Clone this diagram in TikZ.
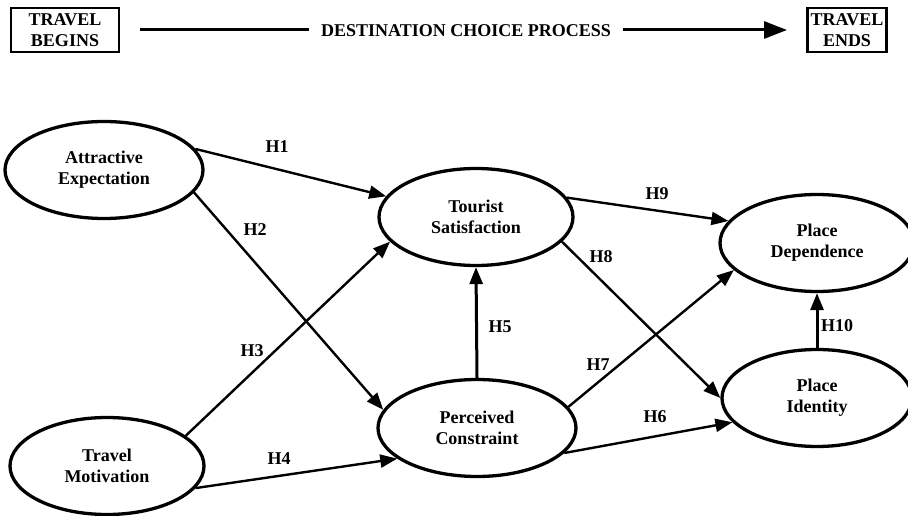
\documentclass[tikz,border=0pt]{standalone}
\usepackage{fontspec}
\setmainfont{Liberation Serif}
\usetikzlibrary{arrows.meta,shapes.geometric}
\begin{document}
\begin{tikzpicture}[x=1pt,y=-1pt,
  construct/.style={ellipse, draw, line width=3.3pt, minimum width=194pt, minimum height=97pt,
    inner sep=0pt, align=center, font=\fontsize{18}{21}\selectfont\bfseries},
  stagebox/.style={draw, line width=2.7pt, minimum height=44pt, inner sep=0pt, align=center,
    font=\fontsize{18}{21}\selectfont\bfseries},
  hyp/.style={font=\fontsize{18}{21}\selectfont\bfseries, inner sep=1pt},
  link/.style={line width=2.4pt, -{Triangle[length=17pt,width=13pt]}},
  vlink/.style={line width=3pt, -{Triangle[length=17pt,width=13pt]}},
  procline/.style={line width=3pt}
]
\useasboundingbox (0,0) rectangle (908,516);

% top process bar
\node[stagebox, minimum width=108pt] (begins) at (65,30) {TRAVEL\\BEGINS};
\node[stagebox, minimum width=79pt] (ends) at (847,30) {TRAVEL\\ENDS};
\node[font=\fontsize{18}{21}\selectfont\bfseries, inner xsep=12pt, inner ysep=2pt] (dcp) at (466,31) {DESTINATION CHOICE PROCESS};
\coordinate (l0) at (140,30);
\coordinate (r1) at (787,30);
\draw[procline] (l0) -- (dcp.west |- l0);
\draw[procline, -{Triangle[length=23pt,width=17pt]}] (dcp.east |- r1) -- (r1);

% constructs
\node[construct, minimum width=198pt] (ae) at (104,170) {Attractive\\Expectation};
\node[construct] (tm) at (107,466) {Travel\\Motivation};
\node[construct] (ts) at (476,217) {Tourist\\Satisfaction};
\node[construct, minimum width=198pt] (pc) at (477,428) {Perceived\\Constraint};
\node[construct] (pd) at (817,243) {Place\\Dependence};
\node[construct, minimum width=190pt] (pi) at (817,398) {Place\\Identity};

% hypotheses
\draw[link] (ae.13) -- (ts.167);
\draw[link] (ae.-14) -- (pc.169);
\draw[link] (tm.21) -- (ts.196);
\draw[link] (tm.-14) -- (pc.201);
\draw[vlink] (pc.north) -- (ts.south);
\draw[link] (pc.-16) -- (pi.196);
\draw[link] (pc.13) -- (pd.198);
\draw[link] (ts.-16) -- (pi.180);
\draw[link] (ts.12) -- (pd.166);
\draw[vlink] (pi.north) -- (pd.south);

% labels
\node[hyp] (h1) at (277,147) {H1};
\node[hyp] (h2) at (255,230) {H2};
\node[hyp] (h3) at (252,351) {H3};
\node[hyp] (h4) at (279,459) {H4};
\node[hyp] (h5) at (500,327) {H5};
\node[hyp] (h6) at (655,417) {H6};
\node[hyp] (h7) at (598,365) {H7};
\node[hyp] (h8) at (601,257) {H8};
\node[hyp] (h9) at (657,194) {H9};
\node[hyp] (h10) at (837,326) {H10};
\end{tikzpicture}
\end{document}
